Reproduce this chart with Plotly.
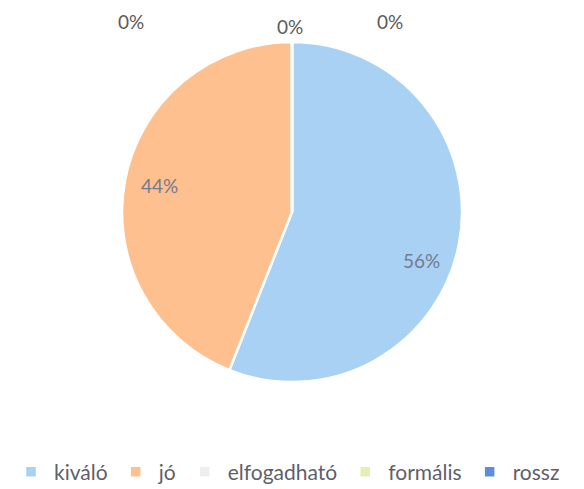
import plotly.graph_objects as go

labels = ["kiváló", "jó", "elfogadható", "formális", "rossz"]
values = [56, 44, 0, 0, 0]
colors = ["#a8d1f4", "#fdc08e", "#eeeeee", "#e6efb0", "#5b8fd9"]

W, H = 584, 489
OFF = 8  # page body margin in the screenshot


def px(x):
    return (x - OFF) / W


def py(y):
    return 1 - (y - OFF) / H


# pie geometry (reference pixels)
CX, CY, R = 292, 212, 170

total = sum(values)
fig = go.Figure(go.Pie(
    labels=labels, values=values, sort=False, direction="clockwise", rotation=0,
    marker=dict(colors=colors, line=dict(color="white", width=2.5)),
    textinfo="none",
    domain=dict(x=[px(CX - R), px(CX + R)], y=[py(CY + R), py(CY - R)]),
    hoverinfo="label+percent",
))

# percentage labels (reference pixel positions)
label_pos = {"kiváló": (422, 260), "jó": (159, 185),
             "elfogadható": (131, 22), "formális": (290, 27), "rossz": (390, 22)}
for lab, v in zip(labels, values):
    x, y = label_pos[lab]
    inside = v > 0
    fig.add_annotation(x=px(x), y=py(y), xref="paper", yref="paper",
                       xanchor="center", yanchor="middle",
                       text=f"{v/total:.0%}", showarrow=False,
                       font=dict(family="Lato", size=19,
                                 color="#767a8e" if inside else "#5a5a5a"))

fig.update_layout(
    width=W, height=H, margin=dict(l=0, r=0, t=0, b=0),
    paper_bgcolor="white", plot_bgcolor="white",
    showlegend=True,
    legend=dict(orientation="h", x=0, xanchor="left", y=py(472), yanchor="middle",
                font=dict(family="Lato", size=21, color="#5f5f6a"),
                itemwidth=36,
                traceorder="normal", itemclick=False),
)
fig.write_html("out.html")
